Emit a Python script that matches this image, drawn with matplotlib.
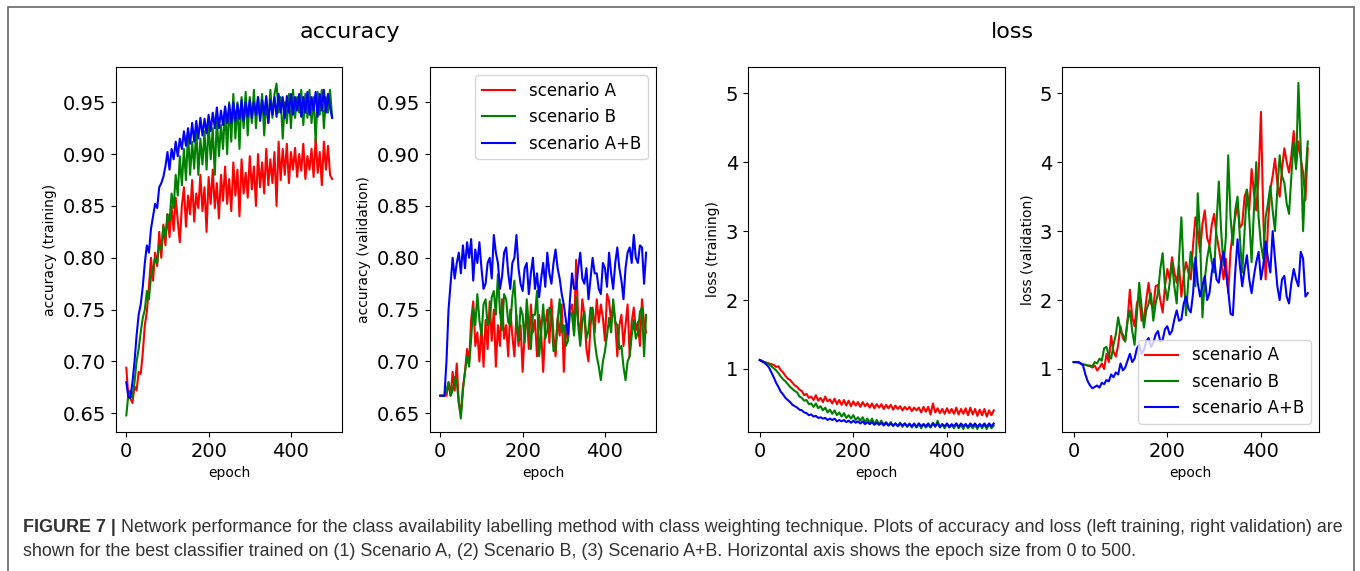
import matplotlib
matplotlib.use('Agg')
import matplotlib.pyplot as plt
from matplotlib.patches import Rectangle

# epochs sampled every 5
epochs = list(range(0, 501, 5))

# ---- accuracy (training) ----
acc_train_a = [0.694, 0.666, 0.664, 0.660, 0.676, 0.672, 0.690, 0.688, 0.708, 0.735,
               0.748, 0.772, 0.800, 0.778, 0.805, 0.792, 0.825, 0.800, 0.832, 0.812,
               0.842, 0.820, 0.850, 0.826, 0.858, 0.836, 0.815, 0.850, 0.868, 0.830,
               0.860, 0.842, 0.875, 0.835, 0.862, 0.848, 0.880, 0.845, 0.868, 0.825,
               0.878, 0.852, 0.885, 0.848, 0.872, 0.838, 0.880, 0.855, 0.888, 0.852,
               0.876, 0.845, 0.892, 0.860, 0.885, 0.840, 0.895, 0.862, 0.882, 0.858,
               0.898, 0.866, 0.888, 0.850, 0.900, 0.868, 0.892, 0.862, 0.905, 0.870,
               0.895, 0.872, 0.902, 0.850, 0.912, 0.875, 0.905, 0.880, 0.910, 0.872,
               0.902, 0.885, 0.906, 0.878, 0.900, 0.884, 0.910, 0.876, 0.898, 0.885,
               0.905, 0.878, 0.915, 0.882, 0.902, 0.870, 0.912, 0.885, 0.908, 0.880,
               0.876]
acc_train_b = [0.648, 0.668, 0.672, 0.665, 0.680, 0.700, 0.712, 0.728, 0.742, 0.750,
               0.768, 0.760, 0.782, 0.790, 0.800, 0.795, 0.812, 0.808, 0.830, 0.820,
               0.842, 0.835, 0.862, 0.848, 0.880, 0.860, 0.898, 0.870, 0.905, 0.875,
               0.920, 0.880, 0.912, 0.886, 0.925, 0.880, 0.915, 0.890, 0.922, 0.885,
               0.930, 0.895, 0.925, 0.880, 0.935, 0.898, 0.928, 0.905, 0.945, 0.900,
               0.950, 0.912, 0.958, 0.915, 0.950, 0.905, 0.955, 0.925, 0.960, 0.918,
               0.955, 0.930, 0.962, 0.925, 0.955, 0.935, 0.958, 0.918, 0.952, 0.930,
               0.962, 0.935, 0.958, 0.968, 0.940, 0.955, 0.915, 0.950, 0.930, 0.958,
               0.925, 0.962, 0.935, 0.955, 0.940, 0.962, 0.928, 0.958, 0.935, 0.962,
               0.930, 0.955, 0.912, 0.960, 0.938, 0.962, 0.925, 0.955, 0.940, 0.962,
               0.935]
acc_train_ab = [0.680, 0.666, 0.665, 0.680, 0.700, 0.725, 0.745, 0.755, 0.772, 0.795,
                0.812, 0.805, 0.828, 0.840, 0.852, 0.848, 0.868, 0.872, 0.878, 0.888,
                0.902, 0.885, 0.905, 0.895, 0.912, 0.898, 0.915, 0.905, 0.922, 0.908,
                0.925, 0.910, 0.930, 0.912, 0.932, 0.915, 0.935, 0.918, 0.934, 0.920,
                0.938, 0.922, 0.940, 0.925, 0.945, 0.925, 0.942, 0.928, 0.946, 0.930,
                0.948, 0.930, 0.950, 0.932, 0.948, 0.934, 0.952, 0.932, 0.950, 0.936,
                0.952, 0.935, 0.950, 0.938, 0.955, 0.932, 0.952, 0.938, 0.956, 0.930,
                0.952, 0.938, 0.955, 0.936, 0.958, 0.940, 0.955, 0.935, 0.956, 0.940,
                0.958, 0.938, 0.955, 0.942, 0.958, 0.936, 0.955, 0.940, 0.960, 0.938,
                0.955, 0.942, 0.960, 0.936, 0.958, 0.942, 0.962, 0.940, 0.958, 0.945,
                0.935]

# ---- accuracy (validation) ----
acc_val_a = [0.667, 0.667, 0.667, 0.667, 0.680, 0.667, 0.690, 0.672, 0.698, 0.660,
             0.650, 0.675, 0.690, 0.712, 0.700, 0.740, 0.758, 0.715, 0.728, 0.700,
             0.735, 0.695, 0.740, 0.712, 0.758, 0.720, 0.750, 0.695, 0.735, 0.715,
             0.760, 0.722, 0.735, 0.705, 0.750, 0.725, 0.705, 0.745, 0.715, 0.735,
             0.690, 0.728, 0.745, 0.712, 0.755, 0.728, 0.740, 0.705, 0.745, 0.728,
             0.690, 0.735, 0.750, 0.718, 0.760, 0.725, 0.705, 0.742, 0.725, 0.755,
             0.690, 0.735, 0.720, 0.750, 0.755, 0.728, 0.798, 0.740, 0.725, 0.760,
             0.745, 0.712, 0.700, 0.735, 0.752, 0.728, 0.760, 0.738, 0.755, 0.742,
             0.720, 0.765, 0.758, 0.738, 0.755, 0.738, 0.705, 0.735, 0.745, 0.715,
             0.735, 0.755, 0.705, 0.738, 0.752, 0.730, 0.738, 0.715, 0.760, 0.738,
             0.728]
acc_val_b = [0.667, 0.667, 0.667, 0.672, 0.680, 0.667, 0.672, 0.685, 0.680, 0.660,
             0.645, 0.672, 0.690, 0.705, 0.695, 0.722, 0.752, 0.735, 0.765, 0.740,
             0.725, 0.755, 0.760, 0.735, 0.740, 0.762, 0.768, 0.745, 0.784, 0.748,
             0.730, 0.765, 0.760, 0.738, 0.735, 0.762, 0.778, 0.740, 0.720, 0.752,
             0.745, 0.718, 0.760, 0.735, 0.712, 0.745, 0.745, 0.768, 0.705, 0.728,
             0.755, 0.722, 0.730, 0.752, 0.745, 0.710, 0.712, 0.740, 0.760, 0.728,
             0.735, 0.715, 0.720, 0.748, 0.745, 0.725, 0.762, 0.735, 0.715, 0.738,
             0.748, 0.722, 0.730, 0.752, 0.750, 0.720, 0.705, 0.695, 0.682, 0.700,
             0.710, 0.725, 0.742, 0.728, 0.760, 0.738, 0.735, 0.712, 0.715, 0.695,
             0.682, 0.700, 0.705, 0.725, 0.740, 0.722, 0.728, 0.748, 0.752, 0.705,
             0.745]
acc_val_ab = [0.667, 0.667, 0.667, 0.700, 0.750, 0.775, 0.800, 0.780, 0.795, 0.805,
              0.785, 0.812, 0.790, 0.815, 0.800, 0.818, 0.778, 0.808, 0.795, 0.815,
              0.790, 0.770, 0.775, 0.795, 0.800, 0.780, 0.822, 0.805, 0.795, 0.770,
              0.782, 0.805, 0.810, 0.785, 0.770, 0.795, 0.800, 0.822, 0.790, 0.775,
              0.768, 0.790, 0.795, 0.765, 0.785, 0.800, 0.770, 0.785, 0.762, 0.780,
              0.795, 0.772, 0.805, 0.785, 0.775, 0.795, 0.808, 0.790, 0.780, 0.765,
              0.755, 0.740, 0.726, 0.760, 0.785, 0.770, 0.770, 0.790, 0.805, 0.780,
              0.775, 0.790, 0.760, 0.780, 0.800, 0.785, 0.785, 0.770, 0.765, 0.795,
              0.790, 0.772, 0.805, 0.785, 0.770, 0.795, 0.810, 0.790, 0.778, 0.760,
              0.790, 0.805, 0.810, 0.795, 0.822, 0.800, 0.795, 0.812, 0.810, 0.775,
              0.805]

# ---- loss (training) ----
loss_train_a = [1.13, 1.12, 1.10, 1.09, 1.08, 1.07, 1.06, 1.03, 1.04, 0.98,
                0.95, 0.90, 0.86, 0.84, 0.80, 0.76, 0.74, 0.70, 0.68, 0.62,
                0.64, 0.58, 0.60, 0.55, 0.62, 0.54, 0.58, 0.52, 0.60, 0.53,
                0.56, 0.50, 0.57, 0.49, 0.55, 0.48, 0.55, 0.47, 0.54, 0.46,
                0.53, 0.47, 0.52, 0.45, 0.52, 0.46, 0.50, 0.44, 0.50, 0.43,
                0.49, 0.44, 0.49, 0.42, 0.48, 0.43, 0.48, 0.41, 0.47, 0.42,
                0.46, 0.40, 0.45, 0.41, 0.45, 0.39, 0.44, 0.40, 0.44, 0.37,
                0.45, 0.38, 0.45, 0.34, 0.50, 0.37, 0.43, 0.36, 0.42, 0.35,
                0.43, 0.36, 0.42, 0.35, 0.44, 0.34, 0.42, 0.35, 0.43, 0.33,
                0.44, 0.34, 0.42, 0.32, 0.41, 0.33, 0.42, 0.31, 0.40, 0.33,
                0.40]
loss_train_b = [1.13, 1.11, 1.10, 1.09, 1.07, 1.04, 1.01, 0.98, 0.94, 0.89,
                0.85, 0.82, 0.78, 0.74, 0.71, 0.68, 0.66, 0.60, 0.58, 0.54,
                0.55, 0.49, 0.50, 0.45, 0.50, 0.43, 0.46, 0.40, 0.44, 0.37,
                0.41, 0.35, 0.40, 0.33, 0.37, 0.31, 0.36, 0.29, 0.33, 0.28,
                0.33, 0.26, 0.30, 0.25, 0.30, 0.23, 0.28, 0.22, 0.28, 0.20,
                0.26, 0.20, 0.25, 0.19, 0.23, 0.18, 0.23, 0.17, 0.21, 0.17,
                0.22, 0.16, 0.21, 0.16, 0.21, 0.15, 0.20, 0.15, 0.21, 0.14,
                0.20, 0.15, 0.19, 0.15, 0.22, 0.16, 0.25, 0.15, 0.20, 0.14,
                0.20, 0.15, 0.19, 0.14, 0.21, 0.14, 0.19, 0.13, 0.20, 0.14,
                0.19, 0.14, 0.19, 0.13, 0.20, 0.14, 0.19, 0.13, 0.20, 0.14,
                0.18]
loss_train_ab = [1.13, 1.11, 1.09, 1.06, 1.02, 0.95, 0.88, 0.80, 0.74, 0.67,
                 0.63, 0.58, 0.55, 0.52, 0.48, 0.46, 0.44, 0.41, 0.40, 0.37,
                 0.36, 0.33, 0.34, 0.31, 0.32, 0.29, 0.30, 0.28, 0.29, 0.26,
                 0.28, 0.26, 0.28, 0.24, 0.26, 0.24, 0.26, 0.23, 0.25, 0.22,
                 0.25, 0.22, 0.24, 0.21, 0.24, 0.20, 0.23, 0.20, 0.23, 0.19,
                 0.22, 0.19, 0.22, 0.18, 0.22, 0.18, 0.21, 0.18, 0.21, 0.17,
                 0.21, 0.18, 0.21, 0.17, 0.20, 0.17, 0.21, 0.16, 0.21, 0.17,
                 0.20, 0.17, 0.21, 0.16, 0.21, 0.17, 0.21, 0.16, 0.20, 0.17,
                 0.21, 0.16, 0.20, 0.17, 0.21, 0.16, 0.21, 0.17, 0.20, 0.16,
                 0.21, 0.17, 0.21, 0.16, 0.20, 0.17, 0.21, 0.16, 0.21, 0.17,
                 0.21]

# ---- loss (validation) ----
loss_val_a = [1.10, 1.10, 1.09, 1.08, 1.06, 1.06, 1.05, 1.04, 1.02, 1.05,
              0.98, 1.02, 1.08, 1.00, 1.22, 1.10, 1.48, 1.25, 1.18, 1.35,
              1.62, 1.45, 1.40, 1.70, 2.15, 1.75, 1.62, 1.95, 2.05, 1.70,
              1.72, 2.00, 2.25, 1.95, 1.88, 2.20, 2.22, 2.00, 1.82, 2.20,
              2.45, 2.30, 2.62, 2.40, 2.25, 2.50, 2.05, 2.35, 2.55, 2.40,
              2.30, 2.80, 3.20, 3.00, 2.70, 3.10, 3.30, 2.90, 2.80, 3.10,
              3.25, 2.95, 2.75, 2.55, 2.30, 2.60, 2.10, 2.70, 3.00, 3.20,
              3.40, 3.05, 3.10, 3.50, 3.60, 3.30, 3.90, 3.55, 3.30, 3.80,
              4.73, 3.20, 2.30, 3.10, 3.60, 3.80, 4.05, 3.70, 3.50, 3.90,
              4.20, 4.00, 3.85, 4.10, 4.45, 3.95, 4.30, 4.05, 3.85, 3.45,
              4.20]
loss_val_b = [1.10, 1.10, 1.10, 1.08, 1.07, 1.06, 1.05, 1.05, 1.04, 1.10,
              1.08, 1.15, 1.12, 1.30, 1.32, 1.20, 1.15, 1.35, 1.50, 1.75,
              1.55, 1.50, 1.40, 1.70, 1.85, 1.55, 1.35, 1.80, 2.25, 1.90,
              1.60, 1.85, 1.95, 2.10, 1.70, 1.95, 2.10, 2.45, 2.68, 2.20,
              2.00, 2.25, 2.55, 2.20, 1.95, 2.60, 3.20, 2.40, 1.78, 2.30,
              2.70, 2.50, 2.20, 3.55, 2.90, 1.75, 2.30, 2.60, 2.80, 2.55,
              2.40, 3.10, 3.72, 3.00, 2.50, 2.90, 4.10, 3.20, 2.80, 3.30,
              3.50, 2.90, 2.40, 3.00, 3.60, 3.20, 2.55, 3.30, 4.00, 3.20,
              2.80, 2.60, 3.20, 3.40, 3.65, 3.30, 3.00, 3.60, 4.10, 3.80,
              3.70, 3.40, 3.25, 3.80, 4.30, 3.90, 5.15, 4.20, 3.00, 3.80,
              4.30]
loss_val_ab = [1.10, 1.10, 1.10, 1.08, 1.05, 0.92, 0.82, 0.76, 0.72, 0.74,
               0.76, 0.73, 0.80, 0.78, 0.84, 0.82, 0.92, 0.88, 0.95, 0.92,
               1.08, 0.98, 1.02, 1.12, 1.22, 1.10, 1.15, 1.30, 1.35, 1.22,
               1.28, 1.40, 1.45, 1.32, 1.38, 1.50, 1.55, 1.40, 1.42, 1.58,
               1.62, 1.50, 1.55, 1.72, 1.85, 1.70, 1.72, 1.95, 2.05, 1.88,
               1.82, 2.10, 2.62, 2.25, 2.05, 2.20, 2.35, 2.00, 2.10, 2.40,
               2.60, 2.30, 2.25, 2.55, 2.70, 2.40, 2.15, 1.80, 1.78, 2.40,
               2.88, 2.50, 2.20, 2.45, 2.65, 2.30, 2.10, 2.35, 2.55, 2.70,
               2.30, 2.50, 2.85, 2.60, 2.40, 3.00, 2.60, 2.20, 2.00, 2.30,
               2.35, 2.05, 1.95, 2.25, 2.45, 2.30, 2.20, 2.70, 2.60, 2.05,
               2.10]

labels = ['scenario A', 'scenario B', 'scenario A+B']
colors = ['red', 'green', 'blue']

caption_bold = 'FIGURE 7 |'
caption_line1 = (' Network performance for the class availability labelling method with class '
                 'weighting technique. Plots of accuracy and loss (left training, right validation) are')
caption_line2 = ('shown for the best classifier trained on (1) Scenario A, (2) Scenario B, '
                 '(3) Scenario A+B. Horizontal axis shows the epoch size from 0 to 500.')

W, H = 1360, 571
fig = plt.figure(figsize=(W / 100, H / 100), dpi=100)

panels = [
    (116, 226, [acc_train_a, acc_train_b, acc_train_ab], 'accuracy (training)', (0.632, 0.984), None),
    (430, 226, [acc_val_a, acc_val_b, acc_val_ab], 'accuracy (validation)', (0.632, 0.984), 'upper right'),
    (748, 257, [loss_train_a, loss_train_b, loss_train_ab], 'loss (training)', (0.086, 5.38), None),
    (1062, 257, [loss_val_a, loss_val_b, loss_val_ab], 'loss (validation)', (0.086, 5.38), 'lower right'),
]

for left, width, series, ylab, ylim, legloc in panels:
    ax = fig.add_axes([left / W, 1 - 432 / H, width / W, 365 / H])
    for ys, c, lab in zip(series, colors, labels):
        ax.plot(epochs, ys, color=c, lw=1.5, label=lab)
    ax.set_ylim(*ylim)
    ax.set_xlim(-25, 524)
    ax.set_xticks([0, 200, 400])
    ax.tick_params(labelsize=14)
    ax.set_xlabel('epoch', fontsize=10)
    ax.set_ylabel(ylab, fontsize=10)
    if ylim[1] > 2:
        ax.set_yticks([1, 2, 3, 4, 5])
    if legloc:
        ax.legend(loc=legloc, fontsize=12)

fig.text(350 / W, 1 - 32 / H, 'accuracy', fontsize=16, ha='center', va='center')
fig.text(1012 / W, 1 - 32 / H, 'loss', fontsize=16, ha='center', va='center')

# frame around figure (open at the bottom)
fig.add_artist(Rectangle((7.5 / W, -0.05), (1354 - 7.5) / W, 1.05 - 7.5 / H,
                         transform=fig.transFigure, fill=False, ec='#666666', lw=1.2))

# caption, sized so the first line spans x=23..1340
cap_family = 'Liberation Sans'
cap_color = '#333333'
renderer = fig.canvas.get_renderer()
fs = 11.6
t1 = fig.text(0, 0, caption_bold, fontsize=fs, fontweight='bold', family=cap_family)
t2 = fig.text(0, 0, caption_line1, fontsize=fs, family=cap_family)
w = t1.get_window_extent(renderer).width + t2.get_window_extent(renderer).width
t1.remove()
t2.remove()
fs = fs * (1340 - 23) / w

tb = fig.text(23 / W, 1 - 531.5 / H, caption_bold, fontsize=fs, fontweight='bold',
              family=cap_family, color=cap_color, va='baseline')
bb = tb.get_window_extent(renderer)
fig.text(bb.x1 / W, 1 - 531.5 / H, caption_line1, fontsize=fs, family=cap_family,
         color=cap_color, va='baseline')
fig.text(23 / W, 1 - 555.5 / H, caption_line2, fontsize=fs, family=cap_family,
         color=cap_color, va='baseline')

fig.savefig('out.png', dpi=100)
